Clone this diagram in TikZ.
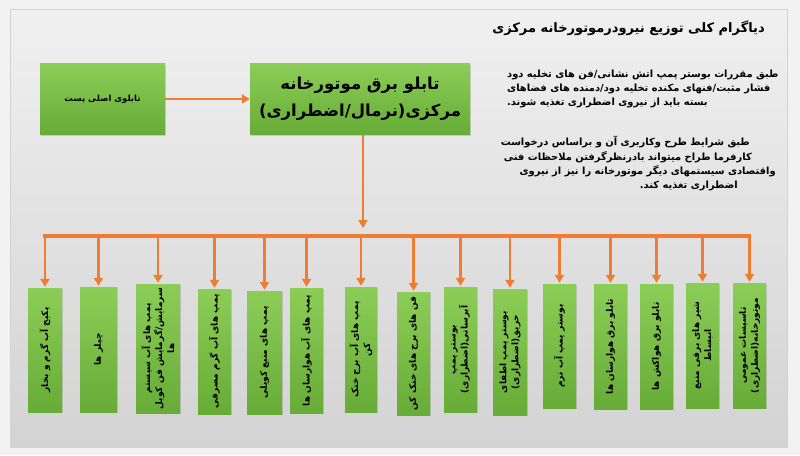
\documentclass[tikz,border=0pt]{standalone}
\usepackage{fontspec}
\newfontfamily\fafont[Script=Arabic]{DejaVu Sans}
\TeXXeTstate=1
\usetikzlibrary{arrows.meta,shadows}
\newcommand{\faR}[1]{{\fafont\beginR #1\endR}}
\definecolor{outerbg}{HTML}{F2F2F2}
\definecolor{bgtop}{HTML}{F0F0F0}
\definecolor{bgbot}{HTML}{D3D3D3}
\definecolor{gtop}{HTML}{8CCD57}
\definecolor{gbot}{HTML}{66AC37}
\definecolor{org}{HTML}{ED7D31}
\tikzset{
  gbox/.style={draw=none, rectangle, top color=gtop, bottom color=gbot, inner sep=0pt,
    drop shadow={opacity=0.3, shadow xshift=1.2pt, shadow yshift=-1.2pt}},
  bigtxt/.style={font=\fafont\bfseries\fontsize{16.5}{27}\selectfont, align=center, inner sep=0pt},
  paratxt/.style={font=\fafont\bfseries\fontsize{9.9}{12}\selectfont, inner sep=0pt},
  rotlab/.style={rotate=90, font=\fafont\bfseries\fontsize{9}{12}\selectfont, align=center, inner sep=0pt},
  orgarrow/.style={draw=org, line width=2.6pt, -{Triangle[length=8pt,width=9pt]}},
  busline/.style={draw=org, line width=3.6pt, line cap=rect},
}
\begin{document}
\begin{tikzpicture}[x=1pt, y=-1pt]
\useasboundingbox (0,0) rectangle (800,455);
\fill[outerbg] (0,0) rectangle (800,455);
\shade[top color=bgtop, bottom color=bgbot] (10,9) rectangle (787,447);
\draw[gray!35, line width=0.6pt] (10,9) rectangle (787,447);

% title
\node[font=\fafont\bfseries\fontsize{13}{16}\selectfont, anchor=east, inner sep=0pt] (title) at (765,28)
  {\faR{دیاگرام کلی توزیع نیرودرموتورخانه مرکزی}};

% top boxes
\node[gbox, minimum width=125pt, minimum height=71pt] (A) at (102.5,99) {};
\node[font=\fafont\bfseries\fontsize{8.5}{10}\selectfont, inner sep=0pt] (Atxt) at (A) {\faR{تابلوی اصلی پست}};
\node[gbox, minimum width=220pt, minimum height=71pt] (B) at (360,99) {};
\node[bigtxt] (Btxt) at (B) {\faR{تابلو برق موتورخانه}\\ \faR{مرکزی(نرمال/اضطراری)}};
\draw[orgarrow] (A.east) -- (B.west);

% paragraphs
\node[paratxt, anchor=west] (p1a) at (507,75) {\faR{طبق مقررات  بوستر پمپ اتش نشانی/فن های تخلیه دود}};
\node[paratxt, anchor=west] (p1b) at (507,89) {\faR{فشار مثبت/فنهای مکنده تخلیه دود/دمنده های فضاهای}};
\node[paratxt, anchor=west] (p1c) at (507,103) {\faR{بسته باید از نیروی اضطراری تغذیه شوند.}};
\node[paratxt, anchor=east] (p2a) at (750,142) {\faR{طبق شرایط طرح وکاربری آن و براساس درخواست}};
\node[paratxt, anchor=east] (p2b) at (752,157) {\faR{کارفرما  طراح میتواند بادرنظرگرفتن ملاحظات فنی}};
\node[paratxt, anchor=east] (p2c) at (776,171) {\faR{واقتصادی سیستمهای دیگر موتورخانه را نیز از نیروی}};
\node[paratxt, anchor=east] (p2d) at (738,186) {\faR{اضطراری تغذیه کند.}};

% bottom boxes
\node[gbox, minimum width=34pt, minimum height=124pt] (b1) at (45,350) {};
\node[gbox, minimum width=37pt, minimum height=125pt] (b2) at (98.5,349.5) {};
\node[gbox, minimum width=44pt, minimum height=129pt] (b3) at (158,348.5) {};
\node[gbox, minimum width=33pt, minimum height=125pt] (b4) at (214.5,351.5) {};
\node[gbox, minimum width=35pt, minimum height=123pt] (b5) at (264.5,352.5) {};
\node[gbox, minimum width=33pt, minimum height=125pt] (b6) at (306.5,350.5) {};
\node[gbox, minimum width=32pt, minimum height=125pt] (b7) at (361,349.5) {};
\node[gbox, minimum width=33pt, minimum height=123pt] (b8) at (413.5,353.5) {};
\node[gbox, minimum width=33pt, minimum height=125pt] (b9) at (460.5,349.5) {};
\node[gbox, minimum width=34pt, minimum height=126pt] (b10) at (510,352) {};
\node[gbox, minimum width=33pt, minimum height=124pt] (b11) at (559.5,346) {};
\node[gbox, minimum width=33pt, minimum height=125pt] (b12) at (610.5,346.5) {};
\node[gbox, minimum width=33pt, minimum height=125pt] (b13) at (656.5,346.5) {};
\node[gbox, minimum width=33pt, minimum height=125pt] (b14) at (702.5,345.5) {};
\node[gbox, minimum width=33pt, minimum height=125pt] (b15) at (749.5,345.5) {};

\node[rotlab] (t1) at (b1) {\faR{پکیج آب گرم و بخار}};
\node[rotlab] (t2) at (b2) {\faR{چیلر ها}};
\node[rotlab] (t3) at (b3) {\faR{پمپ های آب سیستم}\\ \faR{سرمایش/گرمایش فن کویل}\\ \faR{ها}};
\node[rotlab] (t4) at (b4) {\faR{پمپ های آب گرم مصرفی}};
\node[rotlab] (t5) at (b5) {\faR{پمپ های منبع کویلی}};
\node[rotlab] (t6) at (b6) {\faR{پمپ های آب هوارسان ها}};
\node[rotlab] (t7) at (b7) {\faR{پمپ های آب برج خنک}\\ \faR{کن}};
\node[rotlab] (t8) at (b8) {\faR{فن های برج های خنک کن}};
\node[rotlab] (t9) at (b9) {\faR{بوستر پمپ}\\ \faR{آبرسانی(اضطراری)}};
\node[rotlab] (t10) at (b10) {\faR{بوستر پمپ اطفای}\\ \faR{حریق(اضطراری)}};
\node[rotlab] (t11) at (b11) {\faR{بوستر پمپ آب نرم}};
\node[rotlab] (t12) at (b12) {\faR{تابلو برق هوارسان ها}};
\node[rotlab] (t13) at (b13) {\faR{تابلو برق هواکش ها}};
\node[rotlab] (t14) at (b14) {\faR{شیر های برقی منبع}\\ \faR{انبساط}};
\node[rotlab] (t15) at (b15) {\faR{تاسیسات عمومی}\\ \faR{موتورخانه(اضطراری)}};

% bus
\coordinate (busL) at (45,236);
\coordinate (busR) at (749.5,236);
\coordinate (Bout) at (363,135);
\draw[busline] (busL) -- (busR);
\draw[orgarrow] (Bout) -- (Bout |- 0,228);
\foreach \i in {1,...,15}{
  \draw[orgarrow] (b\i.north |- busL) -- ([yshift=1pt]b\i.north);
}
\end{tikzpicture}
\end{document}
